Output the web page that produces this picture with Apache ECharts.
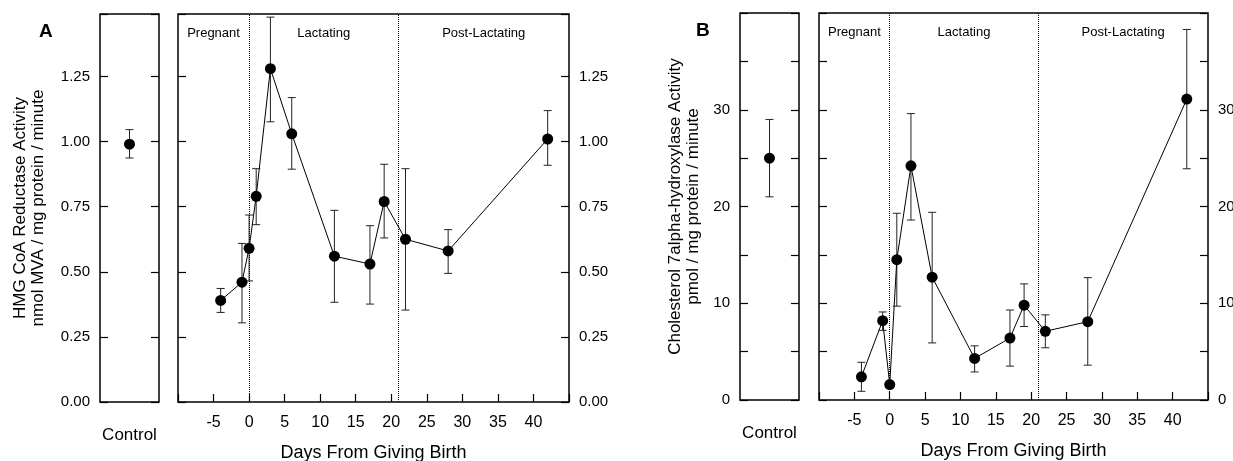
<!DOCTYPE html>
<html lang="en">
<head>
    <meta charset="UTF-8">
    <title>HMG CoA Reductase and Cholesterol 7alpha-hydroxylase Activity</title>
    <script src="https://cdn.jsdelivr.net/npm/echarts/dist/echarts.min.js"></script>
    <style>
        body { margin: 0; padding: 0; background: #fff; }
        #chartContainer { width: 1233px; height: 461px; }
    </style>
</head>
<body>
    <div id="chartContainer"></div>
    <script>
        // data
        const controlCategory = ['Control'];
        const days = [-4, -1, 0, 1, 3, 6, 12, 17, 19, 22, 28, 42];

        // panel A: HMG CoA reductase
        const hmgControl = [0.99];
        const hmgControlUpper = [1.046];
        const hmgControlLower = [0.937];
        const hmgMean = [0.39, 0.46, 0.59, 0.79, 1.28, 1.03, 0.56, 0.53, 0.77, 0.625, 0.58, 1.01];
        const hmgUpper = [0.436, 0.609, 0.718, 0.896, 1.478, 1.169, 0.736, 0.677, 0.913, 0.896, 0.662, 1.119];
        const hmgLower = [0.344, 0.304, 0.465, 0.681, 1.076, 0.894, 0.383, 0.376, 0.630, 0.353, 0.494, 0.909];

        // panel B: cholesterol 7alpha-hydroxylase
        const cypControl = [25.0];
        const cypControlUpper = [29.0];
        const cypControlLower = [21.0];
        const cypMean = [2.4, 8.2, 1.6, 14.5, 24.2, 12.7, 4.3, 6.4, 9.8, 7.1, 8.1, 31.1];
        const cypUpper = [3.9, 9.1, 1.8, 19.3, 29.6, 19.4, 5.6, 9.3, 12.0, 8.8, 12.65, 38.3];
        const cypLower = [0.9, 7.2, 1.4, 9.7, 18.6, 5.9, 2.9, 3.5, 7.6, 5.4, 3.6, 23.9];

        // phases of the experiment
        const phaseNames = ['Pregnant', 'Lactating', 'Post-Lactating'];
        const phaseStarts = [-10, 0, 21];
        const phaseEnds = [0, 21, 45];

        const FONT = "'Liberation Sans', Arial, Helvetica, sans-serif";

        const chart = echarts.init(document.getElementById('chartContainer'));

        function zip3(a, b, c) {
            return a.map((v, i) => [v, b[i], c[i]]);
        }

        // vertical error bar with caps
        function renderErrorBar(params, api) {
            const x = api.value(0);
            const top = api.coord([x, api.value(2)]);
            const bot = api.coord([x, api.value(1)]);
            const cap = 4;
            const style = { stroke: '#222', lineWidth: 1 };
            return {
                type: 'group',
                children: [
                    { type: 'line', shape: { x1: top[0], y1: top[1], x2: bot[0], y2: bot[1] }, style: style },
                    { type: 'line', shape: { x1: top[0] - cap, y1: top[1], x2: top[0] + cap, y2: top[1] }, style: style },
                    { type: 'line', shape: { x1: bot[0] - cap, y1: bot[1], x2: bot[0] + cap, y2: bot[1] }, style: style }
                ]
            };
        }

        // phase names at the top of the main panels
        function renderPhaseLabel(params, api) {
            const mid = (api.value(0) + api.value(1)) / 2;
            const pt = api.coord([mid, 0]);
            return {
                type: 'text',
                x: pt[0],
                y: params.coordSys.y + 19,
                style: {
                    text: phaseNames[params.dataIndex],
                    font: '13px ' + FONT,
                    fill: '#000',
                    align: 'center',
                    verticalAlign: 'middle'
                }
            };
        }

        const phaseData = phaseStarts.map((s, i) => [s, phaseEnds[i]]);
        const dividerLines = phaseStarts.slice(1).map(x => ({ xAxis: x }));

        const gridBase = {
            show: true, borderColor: '#000', borderWidth: 1.5, backgroundColor: 'transparent',
            containLabel: false, outerBoundsMode: 'none'
        };

        function controlXAxis(gridIndex) {
            return {
                type: 'category', gridIndex: gridIndex, data: controlCategory,
                axisLine: { show: false, onZero: false }, axisTick: { show: false },
                axisLabel: { margin: 25, fontSize: 17, color: '#000', fontFamily: FONT }
            };
        }

        function mainXAxis(gridIndex) {
            return {
                type: 'value', gridIndex: gridIndex, min: -10, max: 45, interval: 5,
                splitLine: { show: false }, axisLine: { show: false, onZero: false },
                axisTick: { inside: true, length: 8, lineStyle: { color: '#000', width: 1.2 } },
                axisLabel: {
                    margin: 13, fontSize: 16, color: '#000', fontFamily: FONT,
                    formatter: v => (v <= -10 || v >= 45) ? '' : String(v)
                },
                name: 'Days From Giving Birth', nameLocation: 'middle', nameGap: 42,
                nameTextStyle: { fontSize: 18, color: '#000', fontFamily: FONT }
            };
        }

        function yAxis(gridIndex, pos, min, max, interval, labelFmt, showLabel, name, nameGap) {
            const ax = {
                type: 'value', gridIndex: gridIndex, position: pos, min: min, max: max, interval: interval,
                splitLine: { show: false }, axisLine: { show: false, onZero: false },
                axisTick: { show: true, inside: true, length: 8, lineStyle: { color: '#000', width: 1.2 } },
                axisLabel: { show: showLabel, margin: 10, fontSize: 15, color: '#000', fontFamily: FONT, formatter: labelFmt }
            };
            if (name) {
                ax.name = name;
                ax.nameLocation = 'middle';
                ax.nameRotate = 90;
                ax.nameGap = nameGap;
                ax.nameTextStyle = { fontSize: 17, lineHeight: 18, color: '#000', fontFamily: FONT, align: 'center' };
            }
            return ax;
        }

        const fmtA = v => Math.abs(v * 4 - Math.round(v * 4)) < 1e-6 ? v.toFixed(2) : '';
        const fmtB = v => (v % 10 === 0 && v < 40) ? String(v) : '';

        const titleA = 'HMG CoA Reductase Activity\nnmol MVA / mg protein / minute';
        const titleB = 'Cholesterol 7alpha-hydroxylase Activity\npmol / mg protein / minute';

        function mainSeries(xi, yi, mean, lower, upper) {
            return [
                {
                    type: 'custom', xAxisIndex: xi, yAxisIndex: yi, renderItem: renderErrorBar,
                    data: zip3(days, lower, upper), z: 2, silent: true
                },
                {
                    type: 'line', xAxisIndex: xi, yAxisIndex: yi,
                    data: days.map((d, i) => [d, mean[i]]),
                    symbol: 'circle', symbolSize: 11,
                    itemStyle: { color: '#000', opacity: 1 }, lineStyle: { color: '#000', width: 1 }, z: 3,
                    markLine: {
                        silent: true, symbol: ['none', 'none'], label: { show: false },
                        lineStyle: { type: 'dotted', color: '#000', width: 1 },
                        data: dividerLines
                    }
                },
                {
                    type: 'custom', xAxisIndex: xi, yAxisIndex: yi, renderItem: renderPhaseLabel,
                    data: phaseData, silent: true
                }
            ];
        }

        function controlSeries(xi, yi, mean, lower, upper) {
            return [
                {
                    type: 'custom', xAxisIndex: xi, yAxisIndex: yi, renderItem: renderErrorBar,
                    data: [[0, lower[0], upper[0]]], z: 2, silent: true
                },
                {
                    type: 'scatter', xAxisIndex: xi, yAxisIndex: yi, data: mean,
                    symbol: 'circle', symbolSize: 11, itemStyle: { color: '#000', opacity: 1 }, z: 3
                }
            ];
        }

        const option = {
            animation: false,
            backgroundColor: '#fff',
            graphic: [
                { type: 'text', left: 39, top: 22, style: { text: 'A', font: 'bold 19px ' + FONT, fill: '#000' } },
                { type: 'text', left: 696, top: 21, style: { text: 'B', font: 'bold 19px ' + FONT, fill: '#000' } }
            ],
            grid: [
                Object.assign({ left: 100, top: 14, width: 59, height: 388 }, gridBase),
                Object.assign({ left: 178, top: 14, width: 391, height: 388 }, gridBase),
                Object.assign({ left: 740, top: 13, width: 59, height: 387 }, gridBase),
                Object.assign({ left: 819, top: 13, width: 389, height: 387 }, gridBase)
            ],
            xAxis: [controlXAxis(0), mainXAxis(1), controlXAxis(2), mainXAxis(3)],
            yAxis: [
                yAxis(0, 'left', 0, 1.49, 0.25, fmtA, true, titleA, 53),
                yAxis(0, 'right', 0, 1.49, 0.25, fmtA, false),
                yAxis(1, 'left', 0, 1.49, 0.25, fmtA, false),
                yAxis(1, 'right', 0, 1.49, 0.25, fmtA, true),
                yAxis(2, 'left', 0, 40, 5, fmtB, true, titleB, 38),
                yAxis(2, 'right', 0, 40, 5, fmtB, false),
                yAxis(3, 'left', 0, 40, 5, fmtB, false),
                yAxis(3, 'right', 0, 40, 5, fmtB, true)
            ],
            series: [].concat(
                controlSeries(0, 0, hmgControl, hmgControlLower, hmgControlUpper),
                mainSeries(1, 2, hmgMean, hmgLower, hmgUpper),
                controlSeries(2, 4, cypControl, cypControlLower, cypControlUpper),
                mainSeries(3, 6, cypMean, cypLower, cypUpper)
            )
        };

        chart.setOption(option);
    </script>
</body>
</html>
